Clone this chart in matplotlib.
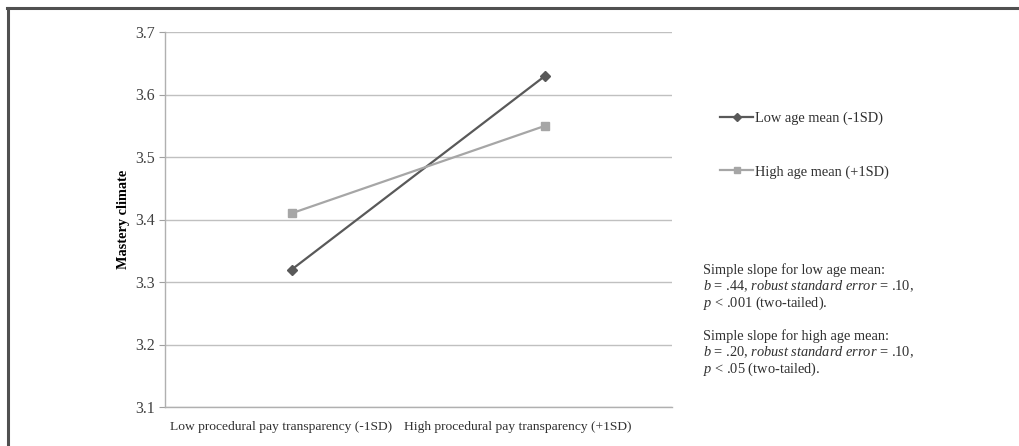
import matplotlib
matplotlib.use("Agg")
import matplotlib.pyplot as plt
from matplotlib.lines import Line2D
from matplotlib.transforms import ScaledTranslation

categories = ["Low procedural pay transparency (-1SD)", "High procedural pay transparency (+1SD)"]
low_age = [3.32, 3.63]
high_age = [3.41, 3.55]
series_names = ["Low age mean (-1SD)", "High age mean (+1SD)"]
yticks = [3.1, 3.2, 3.3, 3.4, 3.5, 3.6, 3.7]
ylabel = "Mastery climate"

plt.rcParams['font.family'] = ['Liberation Serif', 'DejaVu Serif']
plt.rcParams['mathtext.fontset'] = 'custom'
plt.rcParams['mathtext.rm'] = 'Liberation Serif'
plt.rcParams['mathtext.it'] = 'Liberation Serif:italic'

W, H = 1020, 446
fig = plt.figure(figsize=(W/100, H/100), dpi=100)
ax = fig.add_axes([165/W, 1-407/H, (672-165)/W, (407-32)/H])

x = [0, 1]
dark = '#595959'
light = '#a6a6a6'
ax.plot(x, low_age, color=dark, lw=1.6, marker='D', ms=5, label=series_names[0], zorder=3)
ax.plot(x, high_age, color=light, lw=1.6, marker='s', ms=6, label=series_names[1], zorder=3)

ax.set_xlim(-0.5, 1.5)
ax.set_ylim(3.1, 3.7)
ax.set_yticks(yticks)
ax.set_yticklabels([f"{v:.1f}" for v in yticks], fontsize=11.5, color='#404040')
ax.set_xticks(x)
ax.set_xticklabels(categories, fontsize=9.7, color='#303030')
ax.tick_params(axis='x', length=0, pad=10)
ax.tick_params(axis='y', length=4, color='#a0a0a0', pad=3)
# Excel nudges the crowded category labels to the left
shifts = [-11, -27]
for lab, s in zip(ax.get_xticklabels(), shifts):
    lab.set_transform(lab.get_transform() + ScaledTranslation(s/100, 0, fig.dpi_scale_trans))
ax.grid(axis='y', color='#c0c0c0', lw=1.0)
ax.set_axisbelow(True)
for s in ['top', 'right']:
    ax.spines[s].set_visible(False)
for s in ['left', 'bottom']:
    ax.spines[s].set_color('#b0b0b0')
    ax.spines[s].set_linewidth(1.0)
ax.set_ylabel(ylabel, fontsize=10.3, fontweight='bold')
ax.yaxis.set_label_coords((123-165)/(672-165), 0.5)
ax.yaxis.label.set_va('center')

# legend entries
handles = [Line2D([0], [0], color=dark, lw=1.6, marker='D', ms=4),
           Line2D([0], [0], color=light, lw=1.6, marker='s', ms=5)]
leg = fig.legend(handles, series_names, loc='upper left',
                 bbox_to_anchor=(720/W, 1-112/H), frameon=False,
                 fontsize=10.4, handlelength=2.3, handletextpad=0.15,
                 labelspacing=2.75, borderaxespad=0, borderpad=0)
for t in leg.get_texts():
    t.set_color('#303030')

notes = [
    "Simple slope for low age mean:",
    r"$b$ = .44, $\mathit{robust\ standard\ error}$ = .10,",
    r"$p$ < .001 (two-tailed).",
    "",
    "Simple slope for high age mean:",
    r"$b$ = .20, $\mathit{robust\ standard\ error}$ = .10,",
    r"$p$ < .05 (two-tailed).",
]
y0 = 270
dy = 16.5
for i, line in enumerate(notes):
    if line:
        fig.text(703/W, 1-(y0 + i*dy)/H, line, fontsize=10.4, color='#303030',
                 ha='left', va='center')

# outer frame (top and left visible)
fig.add_artist(Line2D([7/W, 1.0], [1-8/H, 1-8/H], color='#505050', lw=2.2,
                      transform=fig.transFigure))
fig.add_artist(Line2D([8/W, 8/W], [0, 1-8/H], color='#505050', lw=2.2,
                      transform=fig.transFigure))

fig.savefig("out.png", dpi=100)
